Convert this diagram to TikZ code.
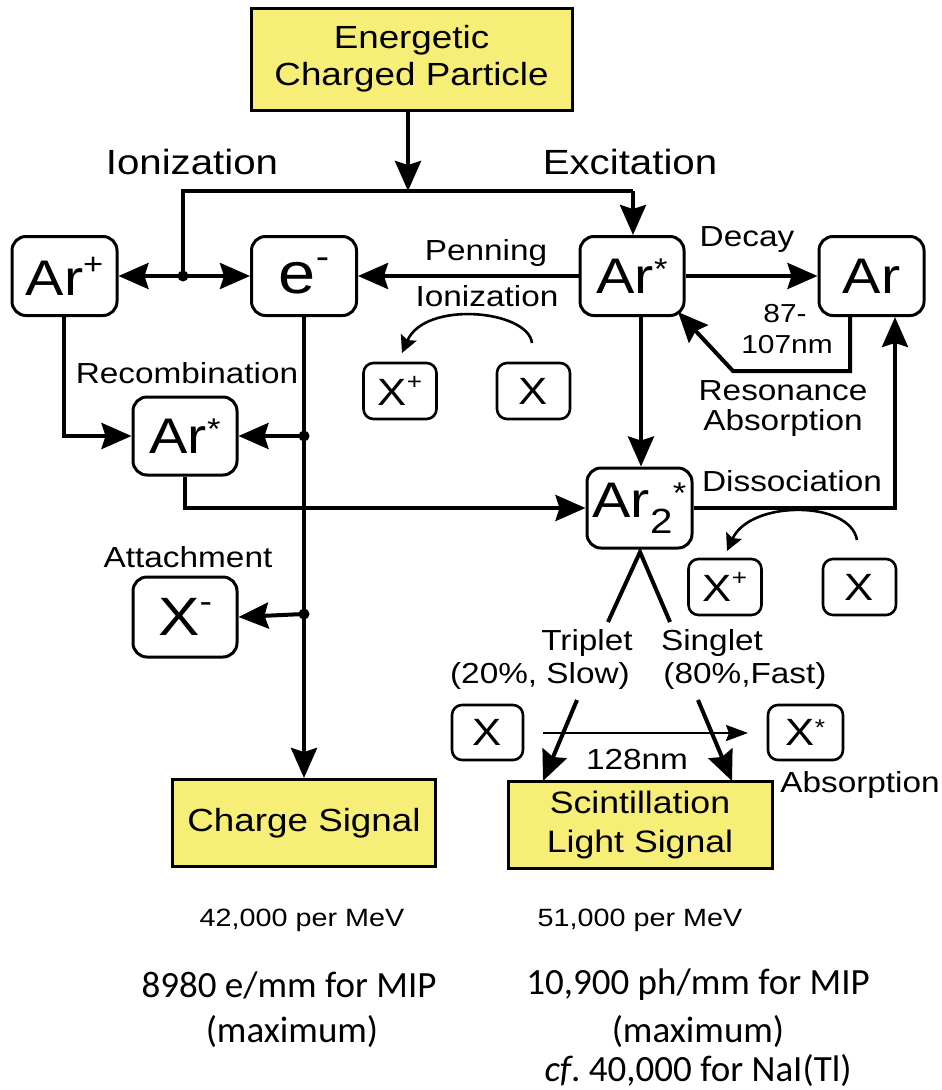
\documentclass[tikz,border=0pt]{standalone}
\usepackage{fontspec}
\setmainfont{Liberation Sans}[FakeStretch=1.15]
\newfontfamily\calibrifont{Carlito}
\usetikzlibrary{arrows.meta}
\definecolor{sigyellow}{RGB}{247,238,120}
\newcommand{\fs}[1]{\fontsize{#1}{#1}\selectfont}
\newcommand{\hi}[1]{\raisebox{0.42em}{\scalebox{0.6}{#1}}}
\newcommand{\hs}{\raisebox{0.28em}{\scalebox{0.6}{*}}}
\begin{document}
\begin{tikzpicture}[x=1pt,y=-1pt,
  box/.style={draw, line width=3pt, rounded corners=14pt, inner sep=0pt, align=center},
  sbox/.style={draw, line width=2.6pt, rounded corners=10pt, inner sep=0pt, align=center, minimum width=73pt, minimum height=56pt, font=\fs{38}},
  sig/.style={draw, line width=3pt, fill=sigyellow, inner sep=0pt, align=center},
  big/.style={font=\fs{50}},
  lbl/.style={inner sep=0pt, align=center, font=\fs{29}},
  head/.style={inner sep=0pt, font=\fs{35}},
  ln/.style={line width=4pt},
  arr/.style={line width=4pt, -{Stealth[length=30pt,width=26pt,inset=4pt]}},
  carr/.style={line width=2.6pt, -{Stealth[length=17pt,width=17pt,inset=3pt]}},
  tarr/.style={line width=2.6pt, -{Stealth[length=22pt,width=16pt,inset=3pt]}},
  dot/.style={circle, fill=black, inner sep=0pt, minimum size=11pt},
  bot/.style={inner sep=0pt, font=\calibrifont\fontsize{37}{37}\selectfont}
]
\useasboundingbox (0,0) rectangle (942,1090);

% signal boxes
\node[sig, minimum width=321pt, minimum height=102pt, font=\fontsize{32}{37}\selectfont] (ecp) at (411.5,59) {Energetic\\Charged Particle};
\node[sig, minimum width=263pt, minimum height=87pt, font=\fs{32}] (cs) at (304,823) {Charge Signal};
\node[sig, minimum width=264pt, minimum height=87pt, font=\fontsize{31}{39}\selectfont] (sc) at (640,825) {Scintillation\\Light Signal};

% species boxes
\node[box, big, minimum width=105pt, minimum height=79pt] (arp) at (64.5,276) {Ar\hi{+}};
\node[box, minimum width=105pt, minimum height=79pt, font=\fs{58}] (em) at (304,276) {e\hi{-}};
\node[box, big, minimum width=104pt, minimum height=79pt] (arx) at (632,276) {Ar\hs};
\node[box, big, minimum width=105pt, minimum height=79pt] (ar) at (871.5,276) {Ar};
\node[box, big, minimum width=104pt, minimum height=78pt] (arl) at (185,436) {Ar\hs};
\node[box, minimum width=104pt, minimum height=80pt, font=\fs{54}] (xm) at (185,617) {X\hi{-}};
\node[box, big, minimum width=105pt, minimum height=80pt] (ar2) at (639.5,508) {Ar\textsubscript{2}\hs};
\node[sbox] (xp1) at (400,391) {X\hi{+}};
\node[sbox] (x1) at (533.5,391) {X};
\node[sbox] (xp2) at (725,587) {X\hi{+}};
\node[sbox] (x2) at (859.5,587) {X};
\node[sbox, minimum width=71pt, minimum height=55pt] (x3) at (487.5,732.5) {X};
\node[sbox, minimum width=75pt, minimum height=55pt] (xs) at (805.5,732.5) {X\hs};

% labels
\node[head] (lion) at (192,162) {Ionization};
\node[head] (lexc) at (630,162) {Excitation};
\node[lbl] (lpen) at (486,253) {Penning};
\node[lbl] (lpion) at (487,296) {Ionization};
\node[lbl] (ldec) at (747,240) {Decay};
\node[lbl, font=\fs{26}] (l87) at (785,314) {87-};
\node[lbl, font=\fs{26}] (l107) at (787,345) {107nm};
\node[lbl] (lres) at (783,391) {Resonance};
\node[lbl] (labs) at (783,423) {Absorption};
\node[lbl] (lrec) at (187,373) {Recombination};
\node[lbl] (ldis) at (792,481) {Dissociation};
\node[lbl] (latt) at (188,557) {Attachment};
\node[lbl] (ltri) at (587,643) {Triplet};
\node[lbl] (lsin) at (712,643) {Singlet};
\node[lbl] (lslow) at (540,676) {(20\%, Slow)};
\node[lbl] (lfast) at (745,676) {(80\%,Fast)};
\node[lbl] (l128) at (637,760) {128nm};
\node[lbl] (labs2) at (860,785) {Absorption};

% bottom text
\node[inner sep=0pt, font=\fs{25}] (b1) at (302,920) {42,000 per MeV};
\node[inner sep=0pt, font=\fs{25}] (b2) at (640,920) {51,000 per MeV};
\node[bot] (b3) at (289,985) {8980 e/mm for MIP};
\node[bot] (b4) at (292,1032) {(maximum)};
\node[bot] (b5) at (698,985) {10,900 ph/mm for MIP};
\node[bot] (b6) at (698,1032) {(maximum)};
\node[bot] (b7) at (698,1071) {\textit{cf}.\ 40,000 for NaI(Tl)};

% coordinates
\coordinate (j1) at (408,191);
\coordinate (hl) at (183,191);
\coordinate (hr) at (633,191);
\coordinate (d1) at (183,276);
\coordinate (d2) at (304,436);
\coordinate (d3) at (304,614);
\coordinate (r0) at (850,0);
\coordinate (r1) at (850,371);
\coordinate (r2) at (733,371);
\coordinate (rc) at (678,312);
\coordinate (c641) at (641,0);
\coordinate (q1) at (895,508);
\coordinate (p1) at (64,436);
\coordinate (p0) at (64,0);
\coordinate (a1) at (185,508);
\coordinate (apex) at (640,552);
\coordinate (tl) at (608,622);
\coordinate (tr) at (670,622);
\coordinate (t1) at (577,700);
\coordinate (t2) at (543,781);
\coordinate (s1) at (698,700);
\coordinate (s2) at (732,781);
\coordinate (h1) at (543,733);
\coordinate (h2) at (748,733);
\coordinate (cu1) at (532,343);
\coordinate (cu2) at (402,353);
\coordinate (cv1) at (857,540);
\coordinate (cv2) at (727,551);

% connectors
\draw[arr] (ecp.south -| j1) -- (j1);
\draw[ln] (hr) -- (hl) -- (d1);
\draw[arr] (hr) -- (arx.north -| hr);
\draw[arr] (d1) -- (arp.east);
\draw[arr] (d1) -- (em.west);
\draw[arr] (arx.west) -- (em.east);
\draw[arr] (arx.east) -- (ar.west);
\draw[arr] (ar.south -| r0) -- (r1) -- (r2) -- (rc);
\draw[arr] (arx.south -| c641) -- (ar2.north -| c641);
\draw[arr] (ar2.east) -- (q1) -- (ar.south -| q1);
\draw[arr] (arp.south -| p0) -- (p1) -- (arl.west);
\draw[arr] (em.south) -- (cs.north);
\draw[arr] (d2) -- (arl.east);
\draw[arr] (d3) -- (xm.east);
\draw[arr] (arl.south) -- (a1) -- (ar2.west);
\draw[ln] (tl) -- (apex) -- (tr);
\draw[arr] (t1) -- (t2);
\draw[arr] (s1) -- (s2);
\draw[tarr] (h1) -- (h2);
\draw[carr] (cu1) .. controls (528,310) and (425,300) .. (cu2);
\draw[carr] (cv1) .. controls (850,500) and (750,500) .. (cv2);
\node[dot] at (d1) {};
\node[dot] at (d2) {};
\node[dot] at (d3) {};
\end{tikzpicture}
\end{document}
